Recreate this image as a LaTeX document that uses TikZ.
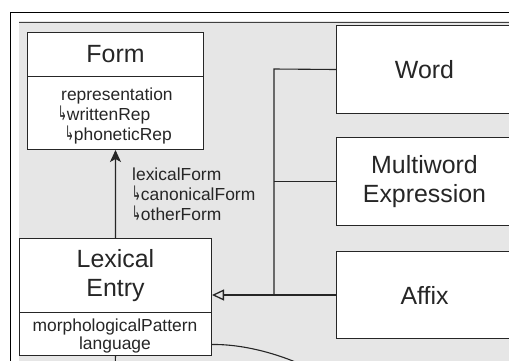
\documentclass[tikz,border=0pt]{standalone}
\usepackage{graphicx}
\usepackage{fontspec}
\setmainfont{Liberation Sans}
\newfontfamily\arrowfont{DejaVu Sans}
\usetikzlibrary{arrows.meta}
\definecolor{panel}{HTML}{E6E6E6}
\definecolor{ink}{HTML}{262626}
\newcommand{\subarrow}{{\arrowfont\scalebox{0.6}[1.15]{↳}}}
\tikzset{
  box/.style={draw=ink, fill=white, line width=1bp, minimum width=176bp,
    inner sep=0pt, anchor=north west, text=ink, align=center},
  big/.style={font=\fontsize{25}{30}\selectfont},
  attr/.style={font=\fontsize{17.5}{20}\selectfont, text=ink, inner sep=0pt},
  conn/.style={draw=ink, line width=1.1bp},
}
\begin{document}
\begin{tikzpicture}[x=1bp, y=-1bp]
\useasboundingbox (0,0) rectangle (509,360);
\clip (0,0) rectangle (509,360);

% outer window frame and grey canvas
\fill[white] (0,0) rectangle (509,360);
\fill[panel] (19,21) rectangle (515,365);
\draw[black!75, line width=1.5bp] (19,22.5) -- (515,22.5);
\draw[black, line width=1.2bp] (10.5,365) -- (10.5,12.5) -- (515,12.5);

% Form class
\node[box, big, minimum height=44bp] (formhead) at (27,32) {Form};
\node[box, minimum height=73bp] (formbody) at (27,76) {};
\node[attr, anchor=base west] (rep) at (61,100) {representation};
\node[attr, anchor=base west] (wrep) at (58,120) {\subarrow writtenRep};
\node[attr, anchor=base west] (prep) at (65,140) {\subarrow phoneticRep};

% Lexical Entry class
\node[box, big, minimum width=192bp, minimum height=74bp] (lexhead) at (19,238) {Lexical\\Entry};
\node[box, minimum width=192bp, minimum height=43bp] (lexbody) at (19,312) {};
\node[attr, anchor=base] (morph) at (115,331) {morphologicalPattern};
\node[attr, anchor=base] (lang) at (115,349) {language};

% subclasses
\node[box, big, minimum height=88bp] (word) at (336,25) {Word};
\node[box, big, minimum height=88bp] (mwe) at (336,137) {Multiword\\Expression};
\node[box, big, minimum height=87bp] (affix) at (336,251) {Affix};

% lexicalForm association
\draw[conn, -{Stealth[length=12bp, width=11bp, inset=3bp]}] (lexhead.north) -- (formbody.south);
\node[attr, anchor=base west] (lexform) at (132,180) {lexicalForm};
\node[attr, anchor=base west] (canform) at (132,200) {\subarrow canonicalForm};
\node[attr, anchor=base west] (othform) at (132,220) {\subarrow otherForm};

% generalisation tree
\coordinate (trunk) at (274,69);
\draw[conn] (word.west) -- (trunk) -- (trunk |- affix.west);
\draw[conn] (mwe.west) -- (mwe.west -| trunk);
\draw[conn, -{Triangle[open, length=12bp, width=11bp, fill=panel, line width=1.3bp]}] (affix.west) -- (affix.west -| lexhead.east);

% links leaving the lower edge
\coordinate (curveend) at (300,364);
\draw[conn] ([yshift=-10.5bp]lexbody.east) .. controls (245,344) and (280,355) .. (curveend);
\coordinate (below) at (115,370);
\draw[conn] (lexbody.south) -- (below);
\end{tikzpicture}
\end{document}
